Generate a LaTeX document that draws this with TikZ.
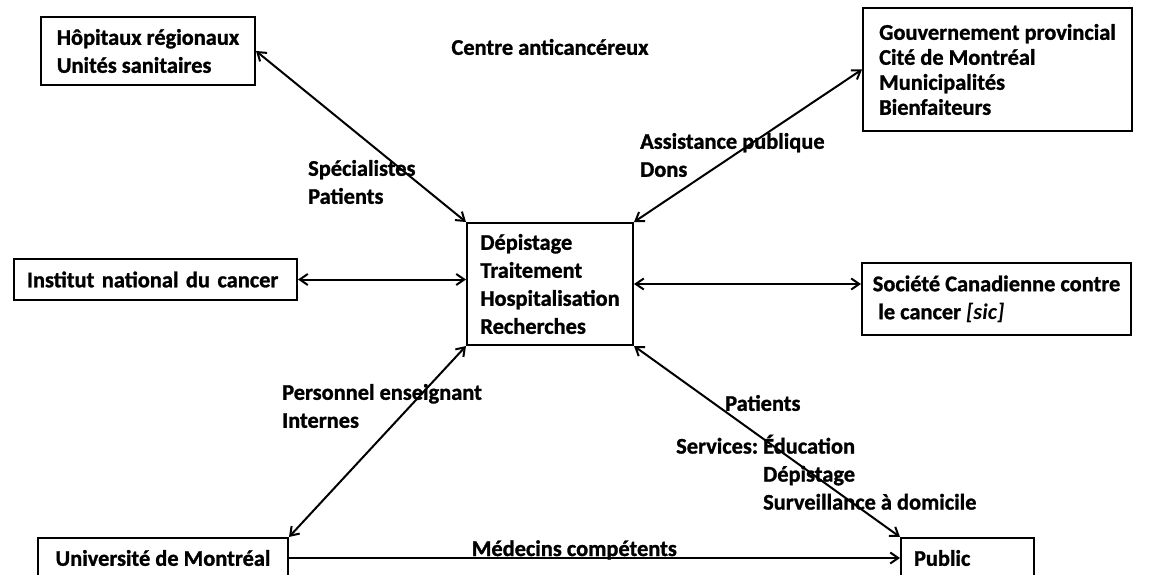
\documentclass[tikz,border=0pt]{standalone}
\usepackage{fontspec}
\setmainfont[BoldFeatures={FakeBold=1.2}]{Carlito}
\usetikzlibrary{arrows.meta}

\tikzset{
  boite/.style={draw, line width=2pt, anchor=north west, align=left, inner xsep=13pt, inner ysep=4pt},
  etiq/.style={anchor=west, align=left, inner sep=0pt},
  fleche/.style={line width=2pt, {Straight Barb[length=8pt,width=11pt]}-{Straight Barb[length=8pt,width=11pt]}},
}

\begin{document}
\begin{tikzpicture}[x=1pt, y=-1pt, font=\bfseries\fontsize{22.4}{28}\selectfont]
			%%%%% START %%%%%
			\useasboundingbox (0,0) rectangle (1152,575);
			
			\node[boite, minimum width=214pt, minimum height=68pt] (hopitaux) at (40,16) {Hôpitaux régionaux\\Unités sanitaires};
			\node[boite, minimum width=269pt, minimum height=123pt, font=\bfseries\fontsize{22.4}{25}\selectfont] (gouv) at (862,7) {Gouvernement provincial\\Cité de Montréal\\Municipalités\\Bienfaiteurs};
			\node[boite, text width=257pt, minimum height=41pt] (institut) at (13,258) {Institut national du cancer};
			\node[boite, minimum width=166pt, minimum height=122pt] (centre) at (466,222) {Dépistage\\Traitement\\Hospitalisation\\Recherches};
			\node[boite, minimum width=269pt, minimum height=72pt, inner xsep=10pt] (societe) at (861,262) {Société Canadienne contre\\\hspace{0.25em}le cancer {\itshape [sic]}};
			\node[boite, minimum width=250pt, minimum height=40pt] (universite) at (37,537) {Université de Montréal};
			\node[boite, text width=107pt, minimum height=40pt] (public) at (900,537) {Public};
			
			\node[inner sep=0pt] (titre) at (550,47) {Centre anticancéreux};
			
			\draw[fleche] (hopitaux.east) -- (centre.north west);
			\draw[fleche] (gouv.west) -- (centre.north east);
			\draw[fleche] (institut.east) -- (institut.east -| centre.west);
			\draw[fleche] (centre.east) -- (centre.east -| societe.west);
			\draw[fleche] (centre.south west) -- (universite.north east);
			\draw[fleche] (centre.south east) -- (public.north west);
			
			\draw[line width=2pt, -{Straight Barb[length=8pt,width=11pt]}] (universite.east) -- (public.west)
			  node[pos=0.467, anchor=base, yshift=2pt, inner sep=0pt] (medecins) {Médecins compétents};
			
			\node[etiq] (lienhop) at (308,182) {Spécialistes\\Patients};
			\node[etiq] (liengouv) at (640,155) {Assistance publique\\Dons};
			\node[etiq] (lienuniv) at (282,406) {Personnel enseignant\\Internes};
			\node[etiq] (lienpat) at (725,403) {Patients};
			\node[etiq] (lienserv) at (676,476) {\begin{tabular}{@{}l@{\ }l@{}}Services: & Éducation\\ & Dépistage\\ & Surveillance à domicile\end{tabular}};
			
			%%%%% END %%%%%
\end{tikzpicture}
\end{document}
